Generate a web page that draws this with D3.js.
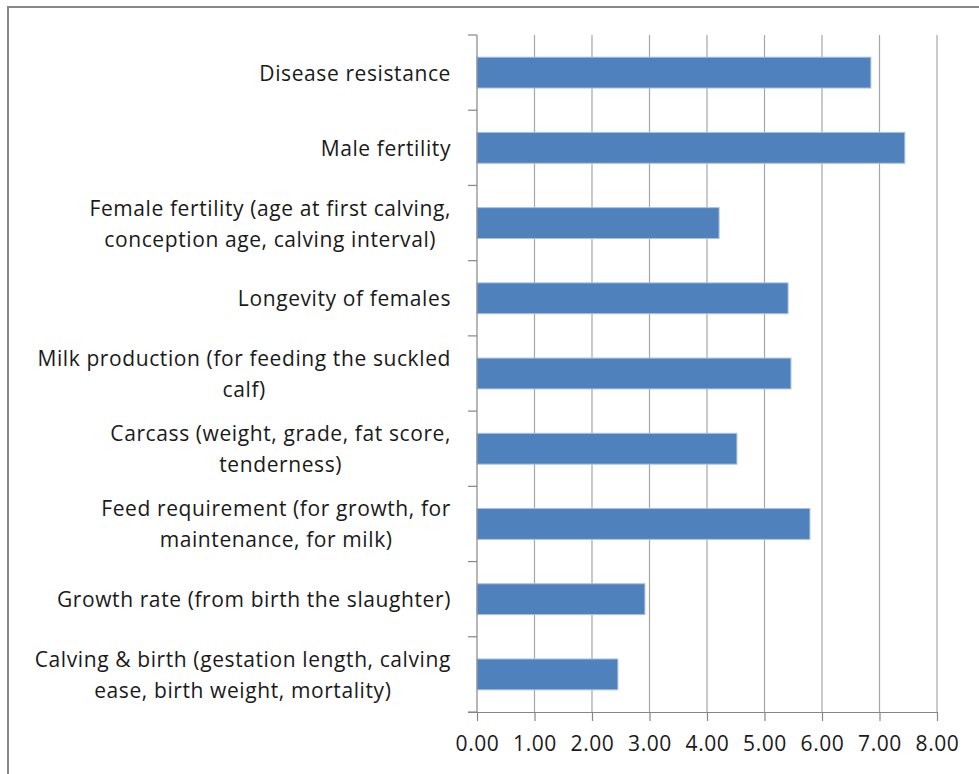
<!DOCTYPE html>
<html>
<head>
<meta charset="utf-8">
<script src="https://cdn.jsdelivr.net/npm/d3@7"></script>
<style>
  html, body { margin: 0; padding: 0; background: #fff; }
  svg { display: block; }
  text { font-family: "Open Sans", Lato, sans-serif; fill: #1a1a1a; letter-spacing: 0.6px; }
</style>
</head>
<body>
<svg id="chart" width="979" height="774"></svg>
<script>
// ---- data (top to bottom) ----
const categories = [
  "Disease resistance",
  "Male fertility",
  "Female fertility (age at first calving,|conception age, calving interval)",
  "Longevity of females",
  "Milk production (for feeding the suckled|calf)",
  "Carcass (weight, grade, fat score,|tenderness)",
  "Feed requirement (for growth, for|maintenance, for milk)",
  "Growth rate (from birth the slaughter)",
  "Calving & birth (gestation length, calving|ease, birth weight, mortality)"
];
const values = [6.85, 7.44, 4.21, 5.41, 5.46, 4.52, 5.79, 2.92, 2.45];
const tickValues = [0, 1, 2, 3, 4, 5, 6, 7, 8];

const svg = d3.select("#chart");
const m = { left: 477, right: 937, top: 35, bottom: 712 };
const FONT = "'Open Sans', Lato, sans-serif";

// outer border
svg.append("rect")
  .attr("x", 8).attr("y", 7)
  .attr("width", 1000).attr("height", 1000)
  .attr("fill", "none").attr("stroke", "#878787").attr("stroke-width", 2);

const x = d3.scaleLinear().domain([0, 8]).range([m.left, m.right]);
const y = d3.scaleBand().domain(categories).range([m.top, m.bottom])
  .paddingInner(0.59).paddingOuter(0.295);

// grid lines
svg.append("g").selectAll("line")
  .data(tickValues.filter(d => d > 0))
  .join("line")
  .attr("x1", d => x(d)).attr("x2", d => x(d))
  .attr("y1", m.top).attr("y2", m.bottom)
  .attr("stroke", "#a6a6a6").attr("stroke-width", 1.2);

// bars
svg.append("g").selectAll("rect")
  .data(values)
  .join("rect")
  .attr("x", x(0))
  .attr("y", (d, i) => y(categories[i]))
  .attr("width", d => x(d) - x(0))
  .attr("height", y.bandwidth())
  .attr("fill", "#4f81bd")
  .attr("stroke", "#a9c1e0").attr("stroke-width", 1);

// x axis
const xAxis = d3.axisBottom(x).tickValues(tickValues)
  .tickFormat(d3.format(".2f")).tickSize(9).tickSizeOuter(0).tickPadding(15);
const gx = svg.append("g").attr("transform", `translate(0,${m.bottom})`).call(xAxis);
gx.select(".domain").remove();
gx.append("line").attr("x1", x(0) - 9).attr("x2", x(8)).attr("y1", 0.5).attr("y2", 0.5)
  .attr("stroke", "#868686").attr("stroke-width", 1.2);
gx.selectAll(".tick line").attr("stroke", "#868686").attr("stroke-width", 1.2);
gx.selectAll(".tick text").attr("font-size", 21).attr("fill", "#1a1a1a")
  .style("font-family", FONT);

// y axis (category boundaries)
const bounds = d3.range(categories.length + 1).map(i => m.top + i * y.step());
const gy = svg.append("g");
gy.append("line").attr("x1", m.left).attr("x2", m.left)
  .attr("y1", m.top).attr("y2", m.bottom)
  .attr("stroke", "#868686").attr("stroke-width", 1.2);
gy.selectAll("line.tk").data(bounds).join("line").attr("class", "tk")
  .attr("x1", m.left - 9).attr("x2", m.left)
  .attr("y1", d => d).attr("y2", d => d)
  .attr("stroke", "#868686").attr("stroke-width", 1.2);

// category labels
const labelRight = 451;
const lineH = 31;
categories.forEach((c, i) => {
  const lines = c.split("|");
  const cy = y(c) + y.bandwidth() / 2;
  const g = svg.append("g");
  const texts = lines.map((ln, j) => g.append("text")
    .attr("font-size", 21)
    .attr("text-anchor", "middle")
    .attr("dominant-baseline", "central")
    .attr("y", cy + (j - (lines.length - 1) / 2) * lineH)
    .text(ln));
  const maxW = d3.max(texts, t => t.node().getComputedTextLength());
  texts.forEach(t => t.attr("x", labelRight - maxW / 2));
});
</script>
</body>
</html>
